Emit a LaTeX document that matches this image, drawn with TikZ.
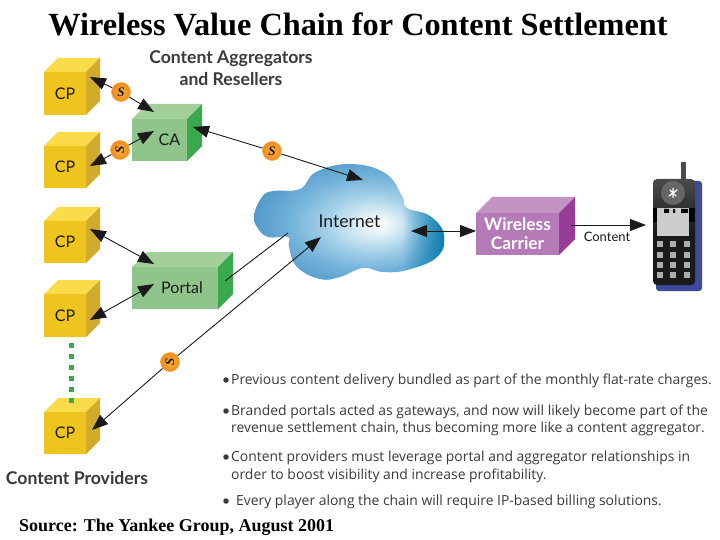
\documentclass[tikz,border=0pt]{standalone}
\usepackage{fontspec}
\setmainfont{Liberation Serif}
\newfontfamily\sansf{Open Sans}
\newfontfamily\labf{Lato}
\usetikzlibrary{arrows.meta,fadings}
\definecolor{cpF}{HTML}{EEC41F}\definecolor{cpT}{HTML}{FADB4A}\definecolor{cpS}{HTML}{D3AB2C}
\definecolor{caF}{HTML}{8FC48A}\definecolor{caT}{HTML}{A3CF9A}\definecolor{caS}{HTML}{3AA84C}
\definecolor{wcF}{HTML}{B57AB8}\definecolor{wcT}{HTML}{C393C4}\definecolor{wcS}{HTML}{973C97}
\definecolor{ink}{HTML}{1A1A1A}\definecolor{bul}{HTML}{3A3A3A}
\definecolor{cla}{HTML}{DDEEF7}\definecolor{clb}{HTML}{A6D1E9}\definecolor{clc}{HTML}{74B3DA}\definecolor{cld}{HTML}{5099CA}\definecolor{cle}{HTML}{0B7DB0}
\definecolor{phb}{HTML}{3D4A9C}\definecolor{pha}{HTML}{4A4A4A}\definecolor{phc}{HTML}{1A1A1A}
\definecolor{coinA}{HTML}{F9B040}\definecolor{coinB}{HTML}{EF8A1F}
\pgfdeclareradialshading{cloudsh}{\pgfpoint{8bp}{-1bp}}{color(0bp)=(white);color(5bp)=(cla);color(12bp)=(clb);color(20bp)=(clc);color(29bp)=(cld);color(50bp)=(cld)}
\tikzset{
 conn/.style={draw=ink,line width=0.9pt},
 headtip/.tip={Triangle[length=16pt,width=12pt,fill=ink]},
 oneway/.style={-headtip},
 twoway/.style={headtip-headtip},
 coin/.style={circle,minimum size=19pt,inner sep=0pt,draw=coinA,line width=0.6pt,inner color=coinA,outer color=coinB,font=\rmfamily\bfseries\itshape\fontsize{13}{13}\selectfont,text=ink},
 cubelab/.style={font=\labf\fontsize{16}{16}\selectfont,text=ink},
 heading/.style={font=\labf\bfseries\fontsize{17.6}{22}\selectfont,text=bul,align=center},
 bullet/.style={font=\sansf\fontsize{13.9}{13.9}\selectfont,text=bul,anchor=west,inner sep=0pt},
 dotb/.style={circle,fill=bul,minimum size=5.5pt,inner sep=0pt},
 key/.style={fill=black!32,minimum size=6pt,inner sep=0pt},
}
% name, x0, y0, x1, y1, depth, colour prefix, text style, text
\newcommand{\boxcube}[9]{%
 \node[fill=#7F,minimum width={(#4-#2)*1pt},minimum height={(#5-#3)*1pt},inner sep=0pt,outer sep=0pt,#8] (#1) at ({(#2+#4)/2},{(#3+#5)/2}) {#9};
 \fill[#7T] (#1.north west) -- ++(#6,-#6) -- ++({#4-#2},0) -- (#1.north east) -- cycle;
 \fill[#7S] (#1.north east) -- ++(#6,-#6) -- ++(0,{#5-#3}) -- (#1.south east) -- cycle;
}
\begin{document}
\begin{tikzpicture}[x=1pt,y=-1pt]
\useasboundingbox (0,0) rectangle (720,540);
\fill[white] (0,0) rectangle (720,540);

\node[font=\rmfamily\bfseries\fontsize{32.3}{32.3}\selectfont,text=black] (title) at (358,24) {Wireless Value Chain for Content Settlement};

% cubes
\boxcube{cpa}{44}{72}{86}{115}{14}{cp}{cubelab}{CP}
\boxcube{cpb}{44}{146}{86}{188}{14}{cp}{cubelab}{CP}
\boxcube{cpc}{44}{221}{86}{263}{14}{cp}{cubelab}{CP}
\boxcube{cpd}{44}{294}{86}{337}{14}{cp}{cubelab}{CP}
\boxcube{cpe}{44}{412}{86}{454}{14}{cp}{cubelab}{CP}
\boxcube{ca}{132}{119}{187}{161}{15}{ca}{cubelab}{\hspace*{20pt}CA}
\boxcube{portal}{132}{267}{218}{309}{15}{ca}{cubelab}{\hspace*{14pt}Portal}
\boxcube{wc}{476}{213}{559}{255}{16}{wc}{font=\labf\bfseries\fontsize{17.3}{19}\selectfont,text=white,align=center}{Wireless\\Carrier}

% green dotted link
\coordinate (dtop) at (71,343);
\coordinate (dbot) at (71,405);
\draw[caS,line width=5pt,dash pattern=on 5pt off 6pt] (dtop) -- (dbot);

% cloud
\begin{scope}
\clip plot[smooth cycle,tension=0.7] coordinates {(254,215)(262,197)(273,191)(300,189)(316,172)(350,164)(385,173)(402,196)(407,208)(430,216)(444,235)(437,257)(407,270)(383,272)(363,268)(340,277)(320,279)(297,267)(289,247)(288,237)(268,237)(257,227)};
\shade[shading=cloudsh] (254,164) rectangle (445,280);
\fill[cle,path fading=west] (402,164) rectangle (445,280);
\end{scope}
\node[font=\labf\fontsize{17.6}{17.6}\selectfont,text=ink] (inet) at (349.5,221) {Internet};

% phone
\fill[phb,rounded corners=3pt] (656,181) rectangle (702,291);
\node[top color=pha,bottom color=phc,middle color=phc,rounded corners=4pt,minimum width=42pt,minimum height=106pt,inner sep=0pt] (phone) at (674,232) {};
\fill[black!70] (681,162) rectangle (686,180);
\fill[black!60] (673,193) circle (12pt);
\fill[black] (653,208) rectangle (695,222);
\fill[black!20] (657,208) rectangle (689,236);
\fill[black] (664,209) rectangle (669,213) (673,209) rectangle (675,213) (681,209) rectangle (688,213);
\draw[white,line width=1.3pt,line cap=round] (669,196) -- (677,190) (670,190) -- (676,196) (673,188.5) -- (673,197.5);
\foreach \ky in {244,255,265,275}{\foreach \kx in {660,673,687}{\node[key] at (\kx,\ky) {};}}
\coordinate (phin) at (646,225);

% connector end points
\coordinate (cpaE) at (90,77);
\coordinate (cpbE) at (90,166);
\coordinate (cpcE) at (90,229);
\coordinate (cpdE) at (90,320);
\coordinate (cpeE) at (92,430);
\coordinate (caA) at (154,112);
\coordinate (caB) at (154,131);
\coordinate (caC) at (193,127);
\coordinate (poA) at (154,264);
\coordinate (poB) at (154,284);
\coordinate (poC) at (225,281);
\coordinate (inA) at (363,180);
\coordinate (inB) at (288,233);
\coordinate (inC) at (321,237);
\coordinate (inD) at (411,231);
\coordinate (wcW) at (476,231);
\coordinate (wcE) at (571,225);

% coins
\node[coin] (s1) at (121,92) {S};
\node[coin,rotate=90] (s2) at (120,150) {S};
\node[coin] (s3) at (272,151) {S};
\node[coin,rotate=90] (s4) at (170,362) {S};

% connectors
\draw[conn,oneway] (s1) -- (cpaE);
\draw[conn,oneway] (s1) -- (caA);
\draw[conn,oneway] (s2) -- (cpbE);
\draw[conn,oneway] (s2) -- (caB);
\draw[conn,oneway] (s3) -- (caC);
\draw[conn,oneway] (s3) -- (inA);
\draw[conn,twoway] (cpcE) -- (poA);
\draw[conn,twoway] (cpdE) -- (poB);
\draw[conn] (poC) -- (inB);
\draw[conn,oneway] (s4) -- (cpeE);
\draw[conn,oneway] (s4) -- (inC);
\draw[conn,twoway] (inD) -- (wcW);
\draw[conn,oneway] (wcE) -- (phin);

% labels
\node[heading] (caLab) at (231,68) {Content Aggregators\\and Resellers};
\node[heading] (cpLab) at (77,478) {Content Providers};
\node[font=\labf\fontsize{13}{13}\selectfont,text=ink] (contentLab) at (607,237) {Content};

% bullets
\node[dotb] (b1) at (226,380) {};
\node[bullet] (t1) at (231,381) {Previous content delivery bundled as part of the monthly flat-rate charges.};
\node[dotb] (b2) at (226,411) {};
\node[bullet] (t2) at (231,412) {Branded portals acted as gateways, and now will likely become part of the};
\node[bullet] (t3) at (231,429) {revenue settlement chain, thus becoming more like a content aggregator.};
\node[dotb] (b3) at (226,457) {};
\node[bullet] (t4) at (231,458) {Content providers must leverage portal and aggregator relationships in};
\node[bullet] (t5) at (231,476) {order to boost visibility and increase profitability.};
\node[dotb] (b4) at (226,501) {};
\node[bullet] (t6) at (236,502) {Every player along the chain will require IP-based billing solutions.};

\node[font=\rmfamily\bfseries\fontsize{18}{18}\selectfont,text=black,anchor=west,inner sep=0pt] (src) at (19,527) {Source: The Yankee Group, August 2001};
\end{tikzpicture}
\end{document}
